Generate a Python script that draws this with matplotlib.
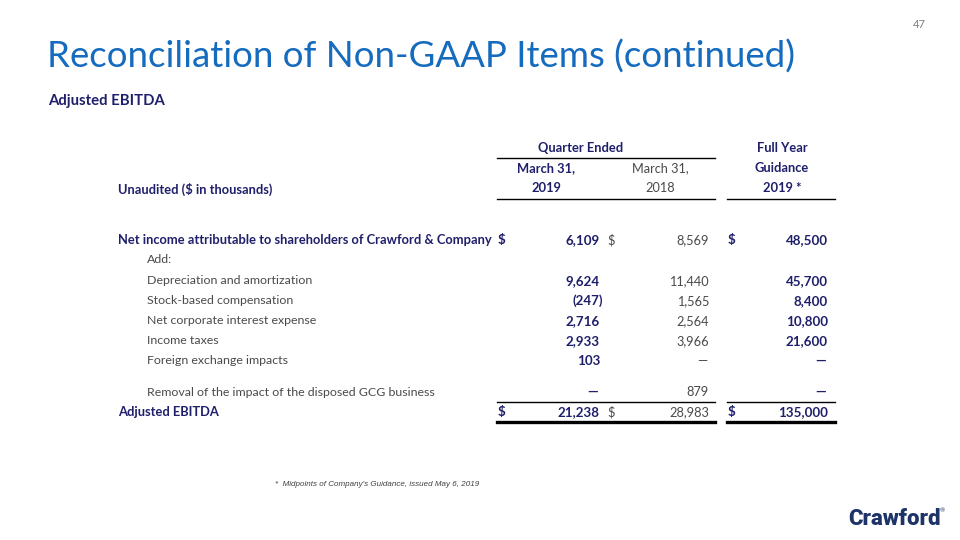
import matplotlib.pyplot as plt
from matplotlib.lines import Line2D

plt.rcParams['font.family'] = ['Lato', 'DejaVu Sans']

# table data ($ in thousands), None = dash
row_labels = ["Net income attributable to shareholders of Crawford & Company",
              "Add:",
              "Depreciation and amortization",
              "Stock-based compensation",
              "Net corporate interest expense",
              "Income taxes",
              "Foreign exchange impacts",
              "Removal of the impact of the disposed GCG business",
              "Adjusted EBITDA"]
q1_2019 = [6109, None, 9624, -247, 2716, 2933, 103, None, 21238]
q1_2018 = [8569, None, 11440, 1565, 2564, 3966, None, 879, 28983]
fy_2019_guidance = [48500, None, 45700, 8400, 10800, 21600, None, None, 135000]
blank_rows = [1]          # "Add:" has no values
dollar_rows = [0, 8]
bold_labels = [0, 8]
row_y = [240, 260, 281, 301, 321, 341, 361, 392, 412]

NAVY = '#1f1f6b'
GREY = '#4a4a4a'
BLUE = '#156bbd'

W, H = 960, 540
fig = plt.figure(figsize=(9.6, 5.4), dpi=100)
fig.patch.set_facecolor('white')


def px(x, y):
    return x / W, 1 - y / H


def txt(x, y, s, **kw):
    kw.setdefault('va', 'center')
    fig.text(*px(x, y), s, **kw)


def hline(x0, x1, y, lw=1.0):
    fig.add_artist(Line2D([x0 / W, x1 / W], [1 - y / H, 1 - y / H],
                          color='black', lw=lw, transform=fig.transFigure))


def fmt(v):
    if v is None:
        return "\u2014"
    if v < 0:
        return "({:,})".format(-v)
    return "{:,}".format(v)


# slide title area
txt(926, 25, "47", fontsize=8, color='#7f7f7f', ha='right')
txt(47, 57, "Reconciliation of Non-GAAP Items (continued)", fontsize=26.4,
    color=BLUE)
txt(48, 101, "Adjusted EBITDA", fontsize=10.7, color=NAVY, fontweight='bold')

# column headers
FS = 9.3    # bold
FR = 8.9    # regular
txt(581, 148, "Quarter Ended", fontsize=FS, color=NAVY, fontweight='bold', ha='center')
txt(782, 148, "Full Year", fontsize=FS, color=NAVY, fontweight='bold', ha='center')
hline(497, 715, 158, 1.0)
txt(546, 168, "March 31,", fontsize=FS, color=NAVY, fontweight='bold', ha='center')
txt(660, 168, "March 31,", fontsize=FR + 0.3, color=GREY, ha='center')
txt(782, 168, "Guidance", fontsize=FS, color=NAVY, fontweight='bold', ha='center')
txt(546, 188, "2019", fontsize=FS, color=NAVY, fontweight='bold', ha='center')
txt(660, 188, "2018", fontsize=FR + 0.3, color=GREY, ha='center')
txt(782, 188, "2019 *", fontsize=FS, color=NAVY, fontweight='bold', ha='center')
txt(118, 189, "Unaudited ($ in thousands)", fontsize=FS, color=NAVY, fontweight='bold')
hline(497, 715, 199, 1.0)
hline(727, 835, 199, 1.0)

# table body
cols = [(q1_2019, 600, 498, NAVY, 'bold', FS),
        (q1_2018, 709, 607, GREY, 'normal', FR),
        (fy_2019_guidance, 828, 728, NAVY, 'bold', FS)]
for i, (label, y) in enumerate(zip(row_labels, row_y)):
    if i in bold_labels:
        txt(118, y, label, fontsize=FS, color=NAVY, fontweight='bold')
    else:
        txt(147, y, label, fontsize=FR, color=GREY)
    if i in blank_rows:
        continue
    for vals, xr, xd, c, w, fs in cols:
        v = vals[i]
        s = fmt(v)
        xx = xr + 3 if (v is not None and v < 0) else xr
        if v is None:
            xx = xr - 2
        txt(xx, y, s, fontsize=fs + 0.3, color=c, fontweight=w, ha='right')
        if i in dollar_rows:
            txt(xd, y, "$", fontsize=fs + 0.3, color=c, fontweight=w)

# total rules
hline(497, 715, 402, 1.0)
hline(727, 835, 402, 1.0)
hline(497, 715, 422, 2.4)
hline(727, 835, 422, 2.4)

# footnote
fig.text(*px(275, 485), "*  Midpoints of Company's Guidance, issued May 6, 2019",
         fontsize=5.8, fontstyle='italic', color='#404040', va='center',
         family='Liberation Sans')

# logo
txt(848, 519, "Crawford", fontsize=16, color='#1e3469', fontweight='heavy',
    family=['Roboto', 'DejaVu Sans'])
txt(940, 511, "\u00ae", fontsize=4.5, color='#1e3469')

fig.savefig("out.png", dpi=100)
